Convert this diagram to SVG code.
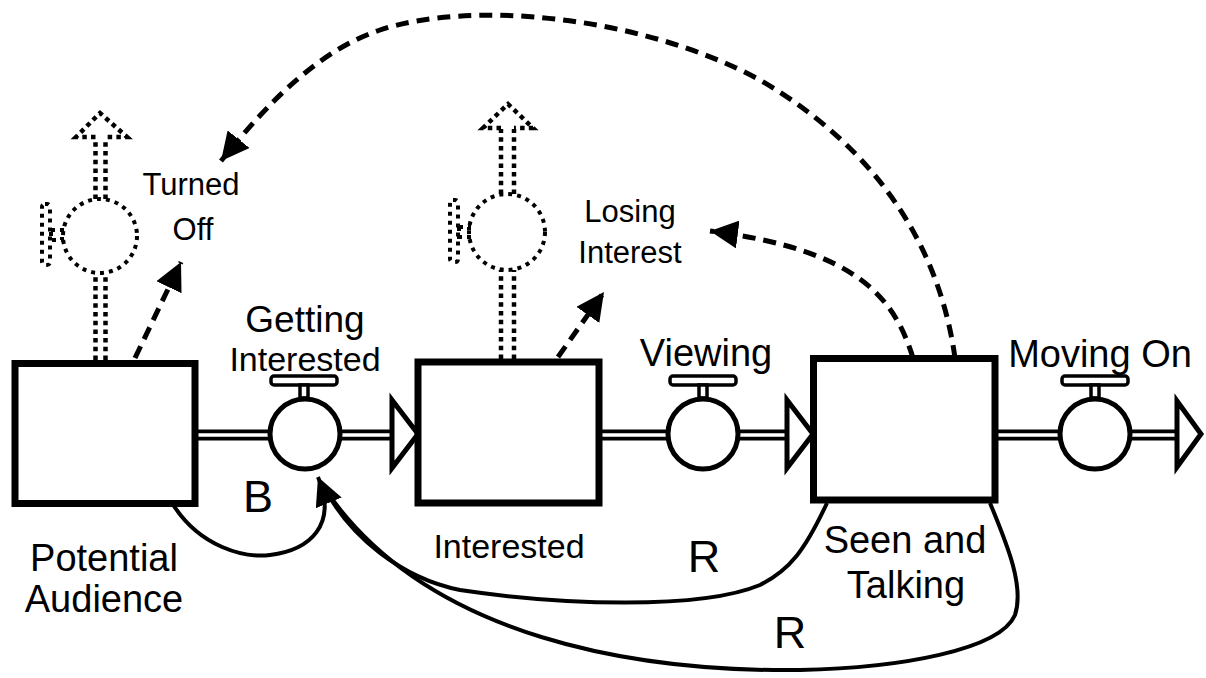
<svg xmlns="http://www.w3.org/2000/svg" width="1206" height="678" viewBox="0 0 1206 678">
  <defs>
    <style>
      .stock { fill: #fff; stroke: #000; stroke-width: 7; }
      .pipe-out { stroke: #000; stroke-width: 11; fill: none; }
      .pipe-in { stroke: #fff; stroke-width: 3.5; fill: none; }
      .valve { fill: #fff; stroke: #000; stroke-width: 5; }
      .handle { fill: #fff; stroke: #000; stroke-width: 3.5; }
      .head { fill: #fff; stroke: #000; stroke-width: 5; stroke-linejoin: miter; }
      .dot { fill: none; stroke: #000; stroke-width: 4.5; stroke-dasharray: 4.5 4.2; }
      .dotc { fill: none; stroke: #000; stroke-width: 4; stroke-dasharray: 4 5; }
      .link { fill: none; stroke: #000; stroke-width: 4; }
      .dash { fill: none; stroke: #000; stroke-width: 5; stroke-dasharray: 13 8; }
      text { font-family: "Liberation Sans", Arial, sans-serif; fill: #000; text-anchor: middle; }
      .lbl { font-size: 38px; }
      .mid { font-size: 34px; }
      .sm { font-size: 31px; }
      .loop { font-size: 45px; }
    </style>
    <marker id="arr" viewBox="0 0 28 28" refX="28" refY="14" markerWidth="28" markerHeight="28" markerUnits="userSpaceOnUse" orient="auto">
      <path d="M0,0 L28,14 L0,28 z" fill="#000"/>
    </marker>
  </defs>

  <!-- flows (pipes, valves, arrowheads) -->
  <g id="flow-getting-interested">
    <path class="pipe-out" d="M195,435 H394"/>
    <path class="pipe-in" d="M193,435 H397"/>
    <path class="head" d="M392,400 L418,434 L392,468 z"/>
    <rect class="handle" x="271" y="376" width="66" height="9" rx="3"/>
    <rect class="handle" x="300" y="385" width="8" height="13"/>
    <circle class="valve" cx="305" cy="434" r="35"/>
    <text x="305" y="332" style="font-size:37px">Getting</text>
    <text class="mid" x="305" y="371">Interested</text>
  </g>

  <g id="flow-viewing">
    <path class="pipe-out" d="M599,435 H789"/>
    <path class="pipe-in" d="M597,435 H792"/>
    <path class="head" d="M787,400 L813,434 L787,468 z"/>
    <rect class="handle" x="670" y="376" width="66" height="9" rx="3"/>
    <rect class="handle" x="699" y="385" width="8" height="13"/>
    <circle class="valve" cx="703" cy="434" r="35"/>
    <text class="lbl" x="706" y="366">Viewing</text>
  </g>

  <g id="flow-moving-on">
    <path class="pipe-out" d="M995,435 H1179"/>
    <path class="pipe-in" d="M993,435 H1182"/>
    <path class="head" d="M1177,401 L1201,434 L1177,467 z"/>
    <rect class="handle" x="1062" y="376" width="66" height="9" rx="3"/>
    <rect class="handle" x="1091" y="385" width="8" height="13"/>
    <circle class="valve" cx="1095" cy="434" r="35"/>
    <text class="lbl" x="1100" y="367">Moving On</text>
  </g>

  <!-- dotted outflows -->
  <g id="flow-turned-off">
    <path class="dot" d="M95.5,360 V273 M105.5,360 V273"/>
    <circle class="dotc" cx="100" cy="236" r="37"/>
    <rect class="dotc" x="42" y="204" width="8" height="61" rx="3"/>
    <rect class="dotc" x="51" y="230" width="11" height="10"/>
    <path class="dot" d="M95.5,199 V138 M105.5,199 V138"/>
    <path class="dot" d="M95.5,137 H76 L100,113 L127,137 H105.5"/>
    <text class="sm" x="191" y="195">Turned</text>
    <text class="sm" x="193" y="240">Off</text>
  </g>

  <g id="flow-losing-interest">
    <path class="dot" d="M501,359 V270 M514,359 V270"/>
    <circle class="dotc" cx="507" cy="232" r="38"/>
    <rect class="dotc" x="450" y="200" width="8" height="62" rx="3"/>
    <rect class="dotc" x="459" y="227" width="10" height="10"/>
    <path class="dot" d="M501,194 V129 M514,194 V129"/>
    <path class="dot" d="M501,128 H483 L508,104 L533,128 H514"/>
    <text class="sm" x="630" y="222">Losing</text>
    <text class="sm" x="630" y="263">Interest</text>
  </g>

  <!-- stocks -->
  <g id="stock-potential-audience">
    <rect class="stock" x="15" y="363.5" width="180" height="140"/>
    <text class="lbl" x="104" y="571">Potential</text>
    <text class="lbl" x="104" y="612">Audience</text>
  </g>

  <g id="stock-interested">
    <rect class="stock" x="418" y="362" width="181" height="141"/>
    <text class="mid" x="509" y="558">Interested</text>
  </g>

  <g id="stock-seen-and-talking">
    <rect class="stock" x="813.5" y="358.5" width="181.5" height="141.5"/>
    <text class="lbl" x="905" y="553">Seen and</text>
    <text class="lbl" x="906" y="598">Talking</text>
  </g>

  <!-- causal links -->
  <g id="connectors">
    <path class="link" d="M172,503 C200,548 245,558 270,555 C310,550 338,525 318,477" marker-end="url(#arr)"/>
    <path class="link" d="M827,503 C805,550 790,570 760,585 C700,610 560,605 460,590 C400,578 350,535 327,492"/>
    <path class="link" d="M990,503 C1005,540 1025,585 1015,615 C1000,650 900,668 800,670 C640,672 430,640 327,492"/>
    <path class="dash" d="M135,358 L181,262" marker-end="url(#arr)"/>
    <path class="dash" d="M558,357 L604,292" marker-end="url(#arr)"/>
    <path class="dash" d="M913,358 C895,300 860,250 710,231" marker-end="url(#arr)"/>
    <path class="dash" d="M955,358 C940,250 880,150 760,80 C640,15 470,0 380,30 C320,50 270,100 221,161" marker-end="url(#arr)"/>
  </g>

  <!-- loop labels -->
  <g id="loop-labels">
    <text class="loop" x="258" y="512">B</text>
    <text class="loop" x="704" y="572">R</text>
    <text class="loop" x="790" y="648">R</text>
  </g>
</svg>
